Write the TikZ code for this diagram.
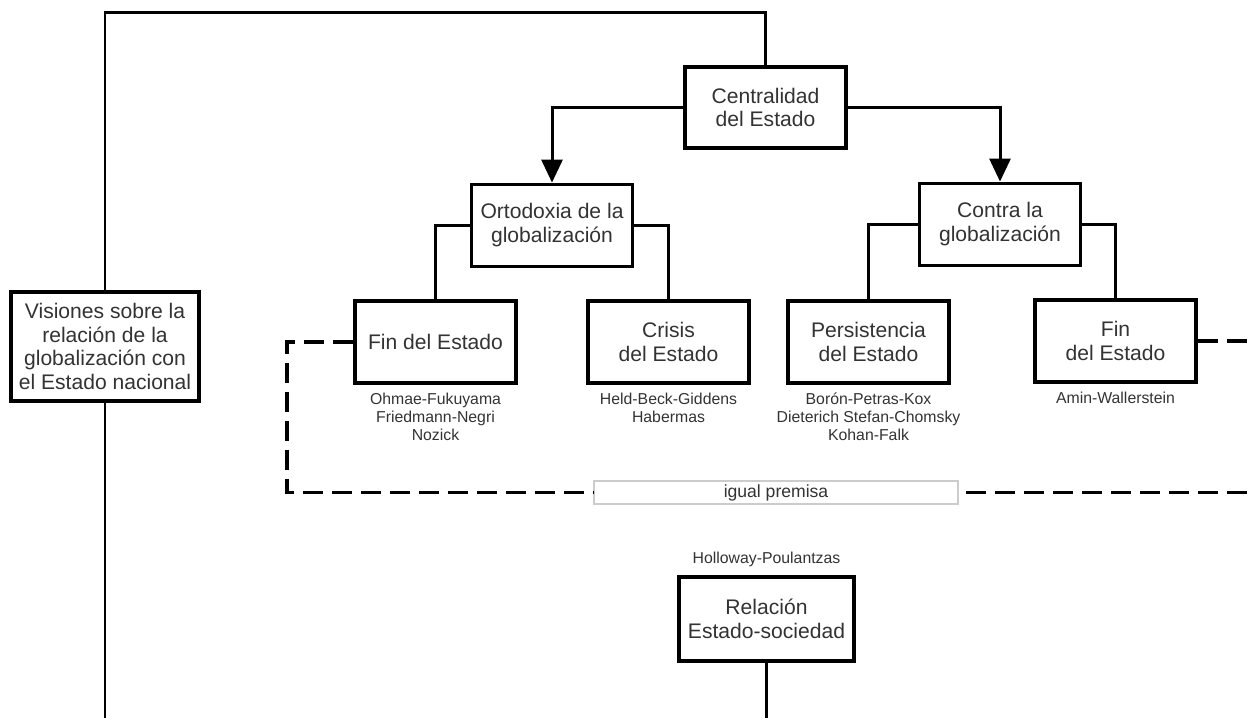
\documentclass[tikz,border=0pt]{standalone}
\usepackage{fontspec}
\setmainfont{Liberation Sans}
\usetikzlibrary{positioning,arrows.meta,calc}
\definecolor{txtgray}{HTML}{333333}
\tikzset{
  tbox/.style={draw=black, fill=white, line width=2.2pt, align=center,
    inner sep=2pt, minimum width=3.22cm, minimum height=1.64cm,
    text=txtgray, font=\fontsize{12}{13.6}\selectfont},
  flow/.style={line width=1.7pt, draw=black},
  arr/.style={flow, -{Triangle[length=4.6mm, width=4.2mm]}},
  dflow/.style={line width=2.2pt, draw=black, dash pattern=on 0.4cm off 0.18cm},
  flab/.style={font=\fontsize{9}{10.4}\selectfont, text=txtgray, align=center, inner sep=0pt},
  prb/.style={draw=black!20, fill=white, line width=0.6pt, minimum width=7.28cm,
    minimum height=0.46cm, inner sep=0pt, text=txtgray, font=\fontsize{10}{12}\selectfont},
}
\begin{document}
\begin{tikzpicture}
  \useasboundingbox (0,0) rectangle (25.06,-14.36);
  \coordinate (topbar) at (0,-0.26);
  \coordinate (bot) at (0,-14.36);
  \coordinate (redge) at (25.06,0);
  % boxes
  \node[tbox, minimum width=3.76cm, minimum height=2.18cm] (vis) at (2.10,-6.93)
    {Visiones sobre la\\relación de la\\globalización con\\el Estado nacional};
  \node[tbox, minimum height=1.62cm] (cen) at (15.31,-2.15) {Centralidad\\del Estado};
  \node[tbox] (ort) at (11.04,-4.51) {Ortodoxia de la\\globalización};
  \node[tbox] (con) at (20.00,-4.49) {Contra la\\globalización};
  \node[tbox] (fin1) at (8.71,-6.84) {Fin del Estado};
  \node[tbox] (cri) at (13.37,-6.84) {Crisis\\del Estado};
  \node[tbox] (per) at (17.37,-6.84) {Persistencia\\del Estado};
  \node[tbox] (fin2) at (22.31,-6.82) {Fin\\del Estado};
  \node[prb] (igu) at (15.52,-9.85) {igual premisa};
  \node[tbox, minimum width=3.50cm, minimum height=1.68cm] (rel) at (15.33,-12.38)
    {Relación\\Estado-sociedad};
  % authors
  \node[flab, below=1.5mm of fin1] (au1) {Ohmae-Fukuyama\\Friedmann-Negri\\Nozick};
  \node[flab, below=1.5mm of cri] (au2) {Held-Beck-Giddens\\Habermas};
  \node[flab, below=1.5mm of per] (au3) {Borón-Petras-Kox\\Dieterich Stefan-Chomsky\\Kohan-Falk};
  \node[flab, below=1.5mm of fin2] (au4) {Amin-Wallerstein};
  \node[flab, above=1.5mm of rel] (au5) {Holloway-Poulantzas};
  % connectors
  \draw[flow] (vis.north) |- (cen.north |- topbar) -- (cen.north);
  \draw[flow] (vis.south) -- (vis.south |- bot);
  \draw[flow] (rel.south) -- (rel.south |- bot);
  \draw[arr] (cen.west) -| (ort.north);
  \draw[arr] (cen.east) -| (con.north);
  \draw[flow] (ort.west) -| (fin1.north);
  \draw[flow] (ort.east) -| (cri.north);
  \draw[flow] (con.west) -| (per.north);
  \draw[flow] (con.east) -| (fin2.north);
  % igual premisa
  \draw[dflow] (fin1.west) -- ++(-1.32,0) |- (igu.west);
  \draw[dflow] ([xshift=1.5mm]igu.east) -- (igu.east -| redge);
  \draw[dflow] (fin2.east) -- (fin2.east -| redge);
\end{tikzpicture}
\end{document}
